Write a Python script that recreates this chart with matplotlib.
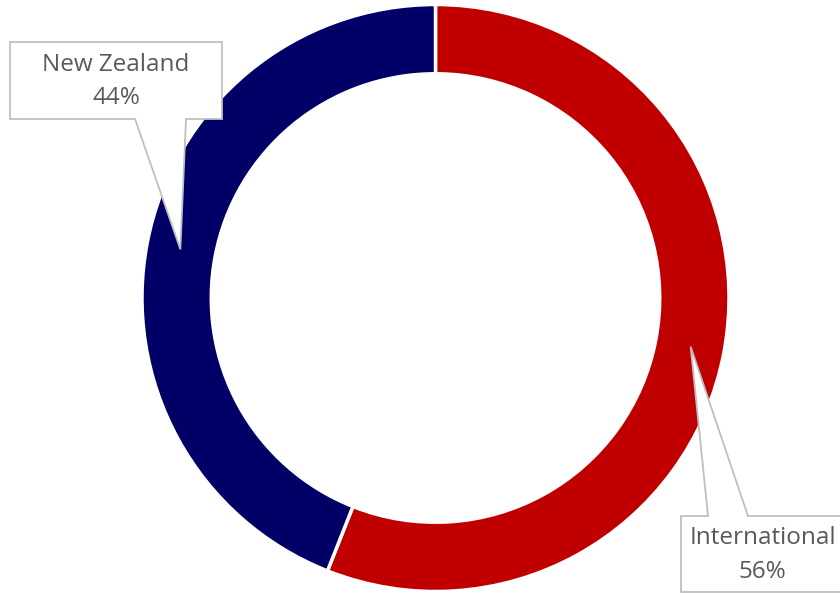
import matplotlib.pyplot as plt
import numpy as np
from matplotlib.patches import Polygon

# data
labels = ["International", "New Zealand"]
shares = [56, 44]
colors = ["#C00000", "#000066"]

# layout (pixel-based, 840x593 canvas)
W, H = 840, 593
CX, CY, R = 435.5, 298, 293.5
RING = 0.236


def to_data(px, py):
    return (px - CX) / R, (CY - py) / R


fig = plt.figure(figsize=(W / 100, H / 100), dpi=100)
ax = fig.add_axes([0, 0, 1, 1])
ax.axis("off")

wedges, _ = ax.pie(
    shares,
    colors=colors,
    startangle=90,
    counterclock=False,
    radius=1,
    wedgeprops=dict(width=RING, edgecolor="white", linewidth=2.5),
)
ax.set_aspect("auto")
ax.set_xlim(-CX / R, (W - CX) / R)
ax.set_ylim(-(H - CY) / R, CY / R)

# callout boxes: (left, top, right, bottom) in px, pointer base x-range in px, pointer side
boxes = {
    "New Zealand": dict(box=(10, 42, 222, 119), base=(135, 186), side="bottom"),
    "International": dict(box=(681, 516, 844, 592), base=(708, 748), side="top"),
}

for wedge, label, share in zip(wedges, labels, shares):
    mid = np.deg2rad((wedge.theta1 + wedge.theta2) / 2)
    rmid = 1 - RING / 2 + 0.003
    tip = (rmid * np.cos(mid), rmid * np.sin(mid))
    b = boxes[label]
    l, t, r, btm = b["box"]
    b0, b1 = b["base"]
    if b["side"] == "bottom":
        pts = [(l, t), (r, t), (r, btm), (b1, btm), None, (b0, btm), (l, btm)]
    else:
        pts = [(l, t), (b0, t), None, (b1, t), (r, t), (r, btm), (l, btm)]
    verts = [tip if p is None else to_data(*p) for p in pts]
    ax.add_patch(Polygon(verts, closed=True, facecolor="white",
                         edgecolor="#BFBFBF", linewidth=1.3, zorder=5))
    tx, ty = to_data((l + r) / 2, (t + btm) / 2 + 1)
    ax.text(tx, ty, f"{label}\n{share}%", ha="center", va="center",
            fontsize=17.5, color="#595959", family="Open Sans",
            linespacing=1.5, zorder=6)

fig.savefig("out.png", dpi=100)
